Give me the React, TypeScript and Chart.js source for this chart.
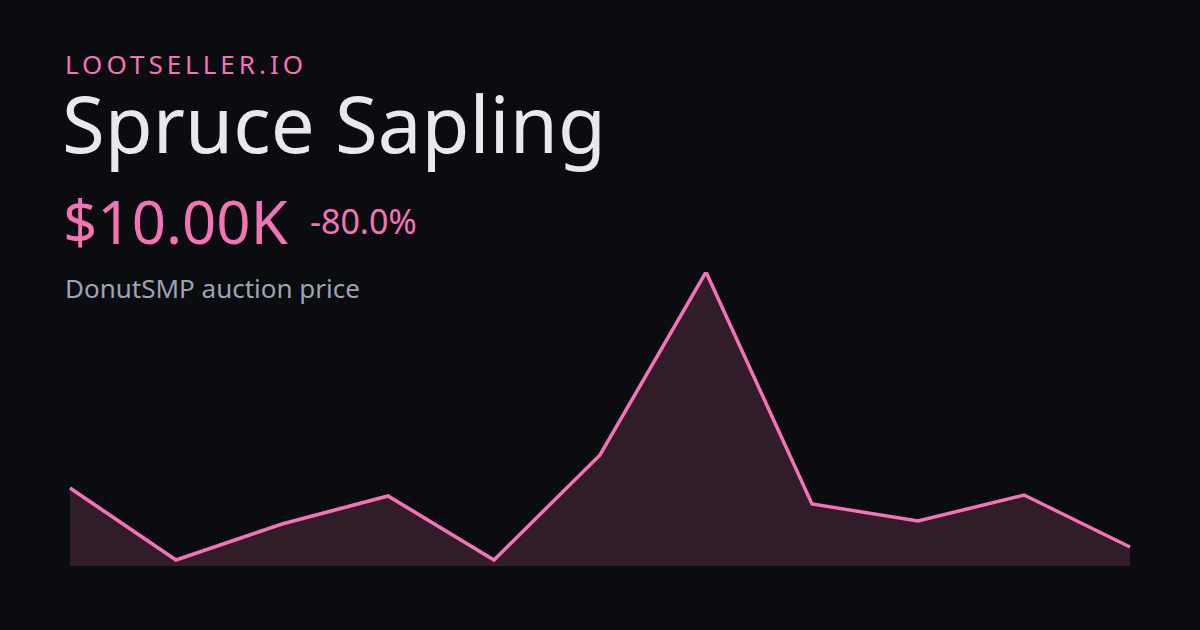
import React, { useEffect, useRef } from "react";
import { Chart, registerables } from "chart.js";

Chart.register(...registerables);

const labels = ["1", "2", "3", "4", "5", "6", "7", "8", "9", "10", "11"];
const prices = [12.9, 9.3, 11.1, 12.5, 9.3, 14.55, 23.7, 12.1, 11.25, 12.55, 9.95];
const yMin = 9.0;
const yMax = 23.7;

const BG = "#0b0c0f";
const PINK = "#f472b6";
const FONT = "'Noto Sans', 'Open Sans', sans-serif";

export default function App() {
  const ref = useRef<HTMLCanvasElement | null>(null);

  useEffect(() => {
    document.body.style.margin = "0";
    document.body.style.background = BG;
    const canvas = ref.current;
    if (!canvas) return;
    const chart = new Chart(canvas, {
      type: "line",
      data: {
        labels,
        datasets: [
          {
            data: prices,
            borderColor: PINK,
            borderWidth: 3.5,
            backgroundColor: "rgba(244,114,182,0.165)",
            fill: "start",
            tension: 0,
            pointRadius: 0,
            borderJoinStyle: "miter",
          },
        ],
      },
      options: {
        animation: false,
        responsive: false,
        maintainAspectRatio: false,
        layout: { padding: 10 },
        plugins: { legend: { display: false }, tooltip: { enabled: false } },
        scales: {
          x: { display: false },
          y: { display: false, min: yMin, max: yMax },
        },
      },
    });
    return () => chart.destroy();
  }, []);

  const base: React.CSSProperties = {
    position: "absolute",
    margin: 0,
    lineHeight: 1,
    whiteSpace: "nowrap",
    fontFamily: FONT,
  };

  return (
    <div
      style={{
        position: "fixed",
        left: 0,
        top: 0,
        width: 1200,
        height: 630,
        background: BG,
        overflow: "hidden",
      }}
    >
      <div style={{ ...base, left: 65, top: 51, fontSize: 26, letterSpacing: 4, color: PINK }}>
        LOOTSELLER.IO
      </div>
      <div style={{ ...base, left: 62, top: 84, fontSize: 78, color: "#e8e9ee" }}>Spruce Sapling</div>
      <div style={{ ...base, left: 63, top: 191, fontSize: 60, color: PINK }}>$10.00K</div>
      <div style={{ ...base, left: 310, top: 204, fontSize: 34, color: PINK }}>-80.0%</div>
      <div style={{ ...base, left: 65, top: 275, fontSize: 26, color: "#9ea3b3" }}>
        DonutSMP auction price
      </div>
      <canvas
        ref={ref}
        width={1080}
        height={314}
        style={{ position: "absolute", left: 60, top: 262, width: 1080, height: 314 }}
      />
    </div>
  );
}
